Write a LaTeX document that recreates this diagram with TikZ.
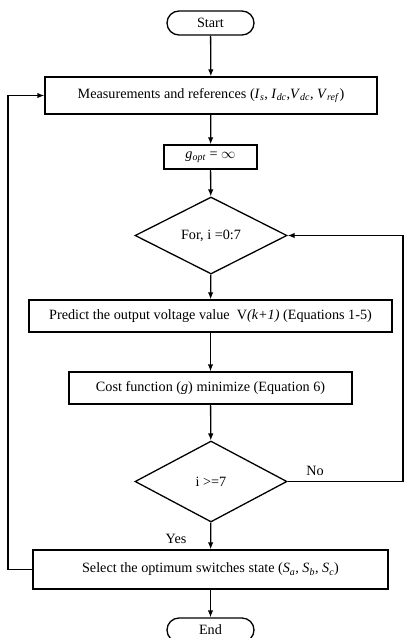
\documentclass[tikz,border=0pt]{standalone}
\usepackage{fontspec}
\setmainfont{Liberation Serif}
\usetikzlibrary{shapes.geometric,arrows.meta}
\newcommand\vsub[2]{\textit{#1}\textsubscript{\textit{#2}}}
\begin{document}
\begin{tikzpicture}[x=1pt,y=-1pt,
  every node/.style={font=\fontsize{14.2}{16}\selectfont},
  box/.style={draw, line width=1.3pt, inner sep=0pt, rectangle},
  term/.style={draw, line width=1.3pt, rectangle, rounded corners=12pt, minimum width=87pt, minimum height=24pt, inner sep=0pt},
  dec/.style={draw, diamond, line width=1.3pt, minimum width=152pt, inner sep=0pt},
  conn/.style={line width=1.3pt, -{Latex[length=7pt,width=5.5pt]}},
  lbl/.style={inner sep=0pt}]
\fill[white] (0,0) rectangle (404,638);
\useasboundingbox (0,0) rectangle (404,638);
\node[term] (start) at (210.5,23) {Start};
\node[box, minimum width=332pt, minimum height=37pt] (meas) at (211,95.5) {Measurements and references (\vsub{I}{s}, \vsub{I}{dc},\vsub{V}{dc}, \vsub{V}{ref})};
\node[box, minimum width=93pt, minimum height=24pt] (gopt) at (210.5,157) {\vsub{g}{opt} = $\infty$};
\node[dec, minimum height=77pt] (d1) at (211,235.5) {For, i =0:7};
\node[box, minimum width=363pt, minimum height=32pt] (pred) at (210.5,316) {Predict the output voltage value\ \ V\textit{(k+1)} (Equations 1-5)};
\node[box, minimum width=283pt, minimum height=32pt] (cost) at (210.5,388) {Cost function (\textit{g}) minimize (Equation 6)};
\node[dec, minimum height=81pt] (d2) at (211,481.5) {i >=7};
\node[box, minimum width=355pt, minimum height=39pt] (sel) at (210.5,569.5) {Select the optimum switches state (\vsub{S}{a}, \vsub{S}{b}, \vsub{S}{c})};
\node[term] (end) at (210.5,630) {End};
\node[lbl] (no) at (315,471) {No};
\node[lbl] (yes) at (176,539) {Yes};
\coordinate (r2) at (403,481.5);
\coordinate (r1) at (403,235.5);
\coordinate (l1) at (8,569.5);
\coordinate (l2) at (8,95.5);
\draw[conn] (start) -- (meas);
\draw[conn] (meas) -- (gopt);
\draw[conn] (gopt) -- (d1);
\draw[conn] (d1) -- (pred);
\draw[conn] (pred) -- (cost);
\draw[conn] (cost) -- (d2);
\draw[conn] (d2) -- (sel);
\draw[conn] (sel) -- (end);
\draw[conn] (d2.east) -- (r2) -- (r1) -- (d1.east);
\draw[conn] (sel.west) -- (l1) -- (l2) -- (meas.west);
\end{tikzpicture}
\end{document}
